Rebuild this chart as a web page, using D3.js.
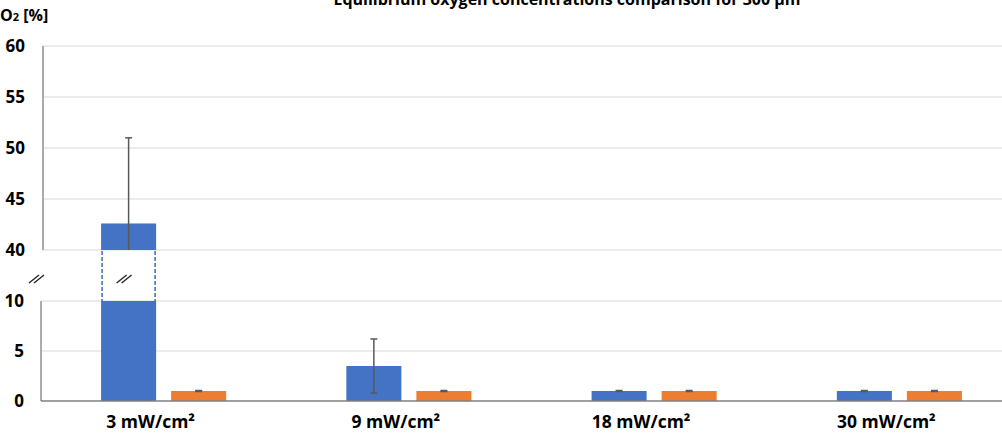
<!DOCTYPE html>
<html>
<head>
<meta charset="utf-8">
<script src="https://cdn.jsdelivr.net/npm/d3@7"></script>
<style>
  body { margin: 0; background: #fff; }
  text { font-family: "Open Sans", "Liberation Sans", sans-serif; font-weight: bold; fill: #000; }
</style>
</head>
<body>
<script>
// data
const categories = ['3 mW/cm\u00b2', '9 mW/cm\u00b2', '18 mW/cm\u00b2', '30 mW/cm\u00b2'];
const series = ['blue', 'orange'];
const blueVals = [42.6, 3.5, 1.0, 1.0];
const blueErr = [8.4, 2.7, 0.05, 0.05];
const orangeVals = [1.0, 1.0, 1.0, 1.0];
const orangeErr = [0.05, 0.05, 0.05, 0.05];
const lowTicks = [0, 5, 10];
const highTicks = [40, 45, 50, 55, 60];

const width = 1002, height = 437;
const colors = {blue: '#4472C4', orange: '#ED7D31'};

const svg = d3.select('body').append('svg')
    .attr('width', width)
    .attr('height', height);

// scales
const x0 = d3.scaleBand()
    .domain(categories)
    .range([41, 1022])
    .paddingInner(0.49)
    .paddingOuter(0.245);

const x1 = d3.scaleBand()
    .domain(series)
    .range([0, x0.bandwidth()])
    .paddingInner(0.2143);

const yLow = d3.scaleLinear().domain([0, 10]).range([401, 301]);
const yHigh = d3.scaleLinear().domain([40, 60]).range([250, 46]);

// gridlines
svg.append('g').selectAll('line')
    .data(lowTicks.filter(d => d > 0))
    .join('line')
    .attr('x1', 41).attr('x2', width)
    .attr('y1', d => yLow(d)).attr('y2', d => yLow(d))
    .attr('stroke', '#d9d9d9').attr('stroke-width', 1);

svg.append('g').selectAll('line')
    .data(highTicks)
    .join('line')
    .attr('x1', 43).attr('x2', width)
    .attr('y1', d => yHigh(d)).attr('y2', d => yHigh(d))
    .attr('stroke', '#d9d9d9').attr('stroke-width', 1);

// axis lines
svg.append('line')
    .attr('x1', 43).attr('x2', 43)
    .attr('y1', yHigh(60)).attr('y2', yHigh(40))
    .attr('stroke', '#7f7f7f').attr('stroke-width', 1.3);
svg.append('line')
    .attr('x1', 41).attr('x2', 41)
    .attr('y1', yLow(10)).attr('y2', yLow(0))
    .attr('stroke', '#7f7f7f').attr('stroke-width', 1.3);

// tick labels
svg.append('g').selectAll('text')
    .data(lowTicks)
    .join('text')
    .attr('x', 24).attr('y', d => yLow(d) + 6)
    .attr('text-anchor', 'end')
    .attr('font-size', 17)
    .text(d => d);

svg.append('g').selectAll('text')
    .data(highTicks)
    .join('text')
    .attr('x', 25).attr('y', d => yHigh(d) + 6)
    .attr('text-anchor', 'end')
    .attr('font-size', 17)
    .text(d => d);

// bars
const rows = [];
categories.forEach((c, i) => {
    rows.push({cat: c, s: 'blue', v: blueVals[i], e: blueErr[i]});
    rows.push({cat: c, s: 'orange', v: orangeVals[i], e: orangeErr[i]});
});

const bars = svg.append('g');
rows.forEach(d => {
    const bx = x0(d.cat) + x1(d.s);
    const bw = x1.bandwidth();
    const cx = bx + bw / 2;
    if (d.v <= 10) {
        bars.append('rect')
            .attr('x', bx).attr('width', bw)
            .attr('y', yLow(d.v)).attr('height', yLow(0) - yLow(d.v))
            .attr('fill', colors[d.s]);
    } else {
        bars.append('rect')
            .attr('x', bx).attr('width', bw)
            .attr('y', yLow(10)).attr('height', yLow(0) - yLow(10))
            .attr('fill', colors[d.s]);
        bars.append('rect')
            .attr('x', bx).attr('width', bw)
            .attr('y', yHigh(d.v)).attr('height', yHigh(40) - yHigh(d.v))
            .attr('fill', colors[d.s]);
        // dashed break box
        [bx + 1, bx + bw - 1].forEach(lx => {
            bars.append('line')
                .attr('x1', lx).attr('x2', lx)
                .attr('y1', yHigh(40) + 1).attr('y2', yLow(10))
                .attr('stroke', colors[d.s]).attr('stroke-width', 1.6)
                .attr('stroke-dasharray', '4,2');
        });
        [-3, 2].forEach(o => {
            bars.append('line')
                .attr('x1', cx - 9 + o).attr('x2', cx + 1 + o)
                .attr('y1', 283).attr('y2', 275)
                .attr('stroke', '#262626').attr('stroke-width', 1.4);
        });
    }
    // error bar
    let top, bot;
    if (d.v > 10) {
        top = yHigh(d.v + d.e);
        bot = yHigh(Math.max(40, d.v - d.e));
    } else {
        top = yLow(d.v + d.e);
        bot = yLow(Math.max(0, d.v - d.e));
    }
    bars.append('line')
        .attr('x1', cx).attr('x2', cx)
        .attr('y1', top).attr('y2', bot)
        .attr('stroke', '#595959').attr('stroke-width', 1.5);
    bars.append('line')
        .attr('x1', cx - 3.5).attr('x2', cx + 3.5)
        .attr('y1', top).attr('y2', top)
        .attr('stroke', '#595959').attr('stroke-width', 1.5);
    if (d.v <= 10 || d.v - d.e >= 40) {
        bars.append('line')
            .attr('x1', cx - 3.5).attr('x2', cx + 3.5)
            .attr('y1', bot).attr('y2', bot)
            .attr('stroke', '#595959').attr('stroke-width', 1.5);
    }
});

// baseline
svg.append('line')
    .attr('x1', 41).attr('x2', width)
    .attr('y1', yLow(0)).attr('y2', yLow(0))
    .attr('stroke', '#7f7f7f').attr('stroke-width', 1.3);

// axis break marks
[-3, 2].forEach(o => {
    svg.append('line')
        .attr('x1', 32 + o).attr('x2', 42 + o)
        .attr('y1', 283).attr('y2', 275)
        .attr('stroke', '#262626').attr('stroke-width', 1.4);
});

// x labels
svg.append('g').selectAll('text')
    .data(categories)
    .join('text')
    .attr('x', d => x0(d) + x0.bandwidth() / 2 - 13)
    .attr('y', 428)
    .attr('text-anchor', 'middle')
    .attr('font-size', 17.5)
    .text(d => d);

// y title
const yt = svg.append('text')
    .attr('x', 0).attr('y', 21)
    .attr('font-size', 16);
yt.append('tspan').text('O');
yt.append('tspan').attr('font-size', 11).text('2');
yt.append('tspan').text(' [%]');

// chart title (cropped at the top, as in the source image)
svg.append('text')
    .attr('x', 567).attr('y', 5)
    .attr('text-anchor', 'middle')
    .attr('font-size', 16)
    .text('Equilibrium oxygen concentrations comparison for 300 \u00b5m');
</script>
</body>
</html>
